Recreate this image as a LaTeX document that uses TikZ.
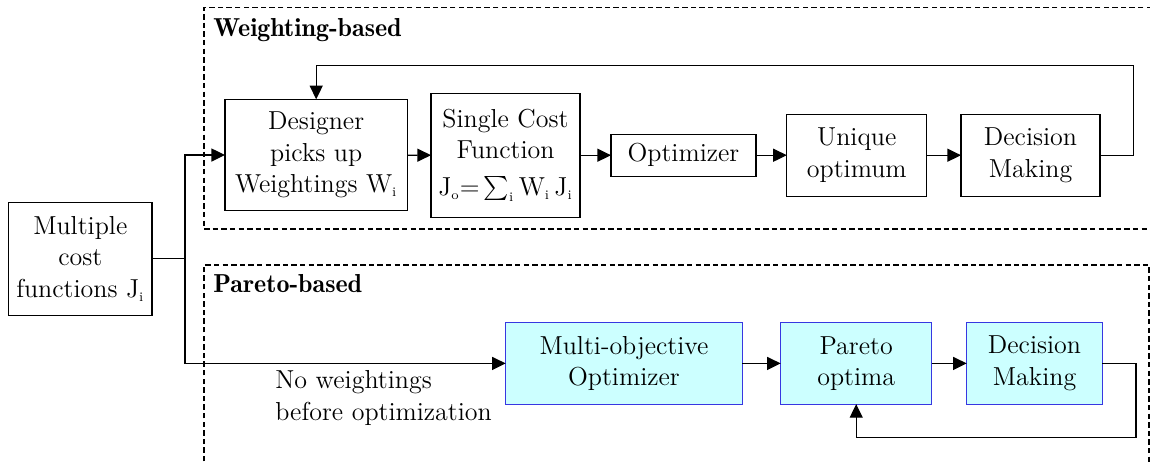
\documentclass[tikz,border=0pt]{standalone}
\usepackage{fix-cm}
\usepackage{exscale}
\usepackage{fontspec}
\newfontfamily\demifont{lmromandemi10-regular.otf}
\usetikzlibrary{arrows.meta}

\definecolor{paretofill}{RGB}{204,255,255}
\definecolor{paretoline}{RGB}{55,55,225}

\newcommand{\bodyfont}{\fontsize{13}{15.7}\selectfont}
\newcommand{\headfont}{\demifont\fontsize{13}{15.7}\selectfont}
% small upright index
\newcommand{\lowidx}[1]{_{\scriptscriptstyle\mathrm{#1}}}

\tikzset{
  blockbox/.style={draw, line width=0.6pt, inner sep=1pt, outer sep=0pt,
                   align=center, font=\bodyfont},
  paretobox/.style={blockbox, draw=paretoline, fill=paretofill},
  flow/.style={line width=0.6pt, -{Triangle[length=6.8pt,width=6.5pt]}},
  plain/.style={line width=0.6pt},
  groupframe/.style={line width=0.6pt, dash pattern=on 2.7pt off 1.6pt},
  grouptitle/.style={anchor=base west, inner sep=0pt, font=\headfont},
}

\begin{document}
\begin{tikzpicture}[x=0.5pt, y=-0.5pt]
  \useasboundingbox (0,0) rectangle (1150,463);

  % group frames
  \draw[groupframe] (1152,7.5) -- (204,7.5) -- (204,229) -- (1152,229);
  \draw[groupframe] (204,470) -- (204,265) -- (1149,265) -- (1149,470);
  \node[grouptitle] (wtitle) at (213,36.7) {Weighting-based};
  \node[grouptitle] (ptitle) at (213,292.7) {Pareto-based};

  % input block
  \node[blockbox, minimum width=71.7pt, minimum height=56.4pt] (mc) at (80.3,258.7)
    {Multiple\\cost\\functions $\mathrm{J}\lowidx{i}$};

  % weighting-based chain
  \node[blockbox, minimum width=91.2pt, minimum height=55.7pt] (des) at (316.2,155)
    {Designer\\picks up\\Weightings $\mathrm{W}\lowidx{i}$};
  \node[blockbox, minimum width=74.5pt, minimum height=62pt] (scf) at (505.5,155.3)
    {Single Cost\\Function\\[2.5pt]$\mathrm{J}\lowidx{o}{=}\sum\lowidx{i}\mathrm{W}\lowidx{i}\,\mathrm{J}\lowidx{i}$};
  \node[blockbox, minimum width=72.5pt, minimum height=20.9pt] (opt) at (683.5,155.2)
    {Optimizer};
  \node[blockbox, minimum width=70pt, minimum height=41pt] (uo) at (856.8,155.2)
    {Unique\\optimum};
  \node[blockbox, minimum width=69.5pt, minimum height=40.9pt] (dm1) at (1030.5,155.2)
    {Decision\\Making};

  % pareto-based chain
  \node[paretobox, minimum width=118.3pt, minimum height=40.7pt] (moo) at (624,363.4)
    {Multi-objective\\Optimizer};
  \node[paretobox, minimum width=75.5pt, minimum height=40.7pt] (po) at (856.2,363.4)
    {Pareto\\optima};
  \node[paretobox, minimum width=67.8pt, minimum height=40.7pt] (dm2) at (1034.5,363.4)
    {Decision\\Making};

  % the base anchor of a multi-line node sits on its last line
  \node[anchor=base west, inner sep=0pt, align=left, font=\bodyfont] (note) at (275,420.3)
    {No weightings\\before optimization};

  % routing points
  \coordinate (split) at (185,258.7);
  \coordinate (loopw) at (1133.3,65.7);
  \coordinate (loopp) at (1136,437.7);

  % connectors
  \draw[plain] (mc.east) -- (split);
  \draw[flow] (split) |- (des.west);
  \draw[flow] (split) |- (moo.west);
  \draw[flow] (des) -- (scf);
  \draw[flow] (scf.east |- opt.west) -- (opt.west);
  \draw[flow] (opt) -- (uo);
  \draw[flow] (uo) -- (dm1);
  \draw[flow] (dm1.east) -| (loopw) -| (des.north);
  \draw[flow] (moo) -- (po);
  \draw[flow] (po) -- (dm2);
  \draw[flow] (dm2.east) -| (loopp) -| (po.south);
\end{tikzpicture}
\end{document}
